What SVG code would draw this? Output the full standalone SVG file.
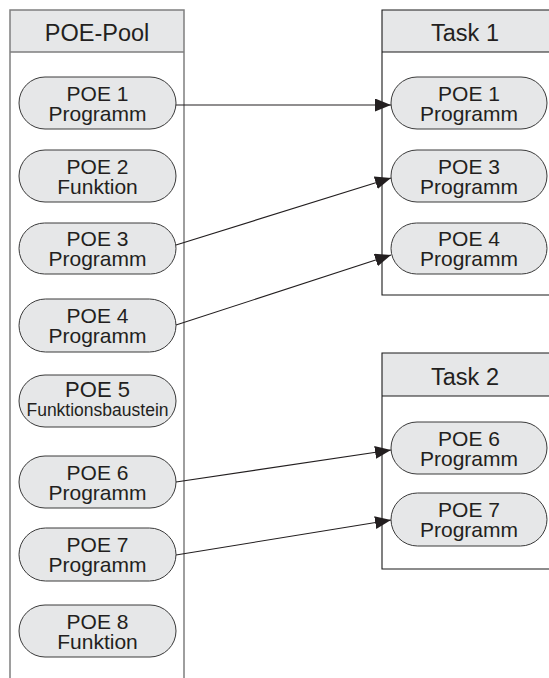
<svg xmlns="http://www.w3.org/2000/svg" width="549" height="678" viewBox="0 0 549 678">
<defs>
<style>
.pill{fill:#e6e7e8;stroke:#3a3a3a;stroke-width:1}
.hdr{fill:#e6e7e8}
.pool{fill:none;stroke:#7f7f7f;stroke-width:1.5}
.task{fill:none;stroke:#1a1a1a;stroke-width:1.1}
.t{font-family:"Liberation Sans",Arial,sans-serif;font-size:21px;fill:#231f20;text-anchor:middle}
.h{font-family:"Liberation Sans",Arial,sans-serif;font-size:23.5px;fill:#231f20;text-anchor:middle}
.s{font-family:"Liberation Sans",Arial,sans-serif;font-size:17.5px;fill:#231f20;text-anchor:middle}
.c{fill:none;stroke:#231f20;stroke-width:1.1}
</style>
<marker id="ah" markerUnits="userSpaceOnUse" markerWidth="17" markerHeight="14" refX="16" refY="6.5" orient="auto">
<path d="M0,0 L16,6.5 L0,13 Z" fill="#231f20"/>
</marker>
</defs>
<rect width="549" height="678" fill="#ffffff"/>

<g id="pool">
<rect class="hdr" x="10" y="10" width="174" height="42"/>
<path class="pool" d="M10,678 V10 H184 V678 M10,52 H184"/>
<text class="h" x="97" y="41">POE-Pool</text>
</g>

<g id="task1">
<rect class="hdr" x="382" y="10" width="180" height="42"/>
<path class="task" d="M560,10 H382 V295 H560 M382,52 H560"/>
<text class="h" x="465" y="41">Task 1</text>
</g>

<g id="task2">
<rect class="hdr" x="382" y="353" width="180" height="43"/>
<path class="task" d="M560,353 H382 V569 H560 M382,396 H560"/>
<text class="h" x="465" y="385">Task 2</text>
</g>

<g id="pool-poe1"><rect class="pill" x="19" y="77" width="157" height="52" rx="26"/><text class="t" x="97.5" y="101">POE 1</text><text class="t" x="97.5" y="121">Programm</text></g>
<g id="pool-poe2"><rect class="pill" x="19" y="150" width="157" height="52" rx="26"/><text class="t" x="97.5" y="173.5">POE 2</text><text class="t" x="97.5" y="193.5">Funktion</text></g>
<g id="pool-poe3"><rect class="pill" x="19" y="223" width="157" height="51" rx="25.5"/><text class="t" x="97.5" y="246">POE 3</text><text class="t" x="97.5" y="266">Programm</text></g>
<g id="pool-poe4"><rect class="pill" x="19" y="299" width="157" height="53" rx="26.5"/><text class="t" x="97.5" y="323">POE 4</text><text class="t" x="97.5" y="343">Programm</text></g>
<g id="pool-poe5"><rect class="pill" x="19" y="375" width="157" height="52" rx="26"/><text class="t" x="97.5" y="397" style="font-size:22px">POE 5</text><text class="s" x="97.5" y="415.5">Funktionsbaustein</text></g>
<g id="pool-poe6"><rect class="pill" x="19" y="456" width="157" height="52" rx="26"/><text class="t" x="97.5" y="479.5">POE 6</text><text class="t" x="97.5" y="499.5">Programm</text></g>
<g id="pool-poe7"><rect class="pill" x="19" y="528" width="157" height="53" rx="26.5"/><text class="t" x="97.5" y="552">POE 7</text><text class="t" x="97.5" y="572">Programm</text></g>
<g id="pool-poe8"><rect class="pill" x="19" y="605" width="157" height="52" rx="26"/><text class="t" x="97.5" y="628.5">POE 8</text><text class="t" x="97.5" y="648.5">Funktion</text></g>

<g id="t1-poe1"><rect class="pill" x="391" y="77" width="156" height="52" rx="26"/><text class="t" x="469" y="101">POE 1</text><text class="t" x="469" y="121">Programm</text></g>
<g id="t1-poe3"><rect class="pill" x="391" y="150" width="156" height="52" rx="26"/><text class="t" x="469" y="173.5">POE 3</text><text class="t" x="469" y="193.5">Programm</text></g>
<g id="t1-poe4"><rect class="pill" x="391" y="223" width="156" height="51" rx="25.5"/><text class="t" x="469" y="246">POE 4</text><text class="t" x="469" y="266">Programm</text></g>

<g id="t2-poe6"><rect class="pill" x="391" y="422" width="156" height="52" rx="26"/><text class="t" x="469" y="445.5">POE 6</text><text class="t" x="469" y="465.5">Programm</text></g>
<g id="t2-poe7"><rect class="pill" x="391" y="493" width="156" height="53" rx="26.5"/><text class="t" x="469" y="517">POE 7</text><text class="t" x="469" y="537">Programm</text></g>

<g id="connectors">
<line class="c" x1="176" y1="105" x2="391" y2="105" marker-end="url(#ah)"/>
<line class="c" x1="176" y1="245" x2="391" y2="178" marker-end="url(#ah)"/>
<line class="c" x1="176" y1="325" x2="391" y2="255" marker-end="url(#ah)"/>
<line class="c" x1="176" y1="482" x2="391" y2="450" marker-end="url(#ah)"/>
<line class="c" x1="176" y1="555" x2="391" y2="520" marker-end="url(#ah)"/>
</g>
</svg>
